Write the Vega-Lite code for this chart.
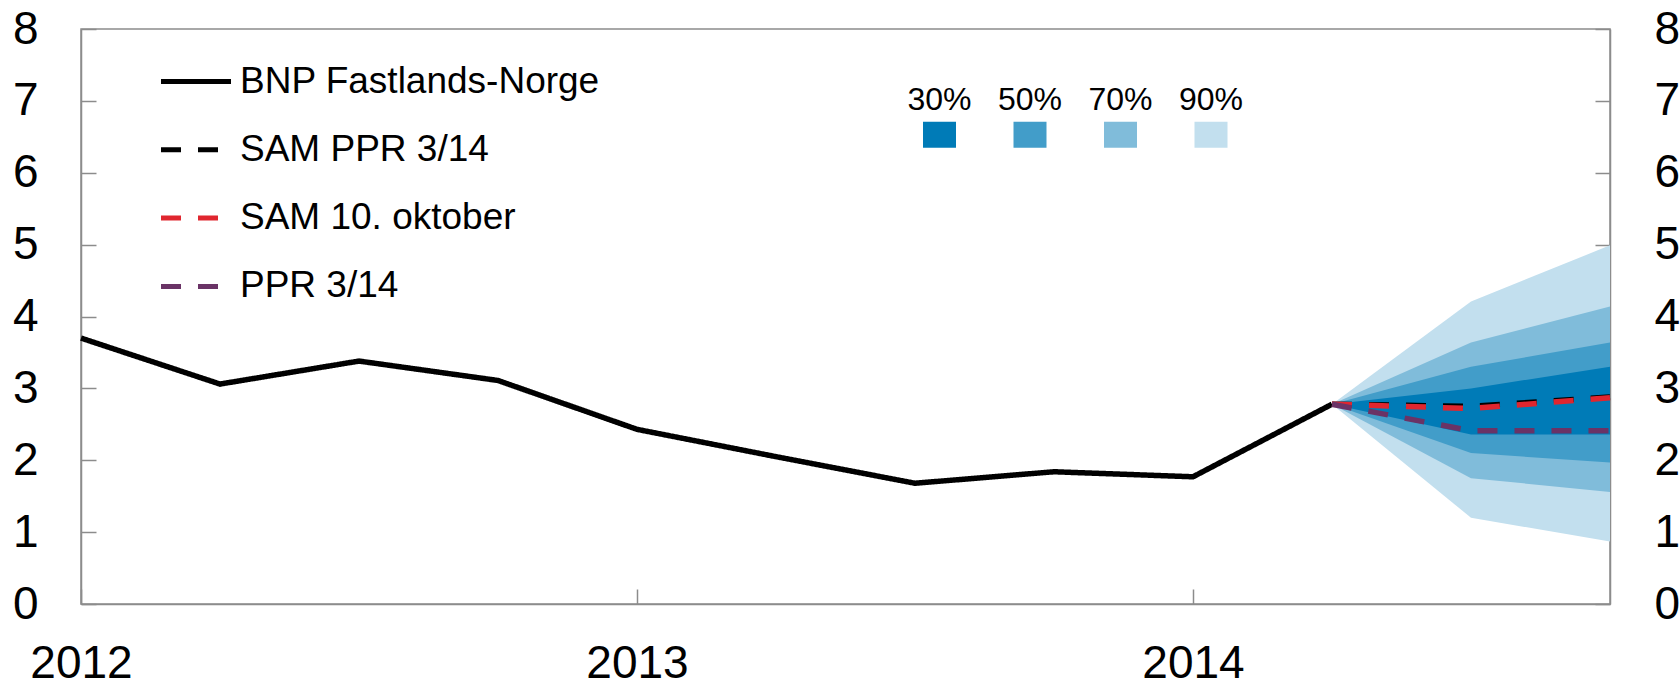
{
  "$schema": "https://vega.github.io/schema/vega-lite/v6.json",
  "width": 1529,
  "height": 575,
  "autosize": {"type": "none"},
  "padding": {"left": 81, "top": 29, "right": 70, "bottom": 77},
  "background": "white",
  "config": {
    "font": "Liberation Sans",
    "view": {"stroke": "#8c8c8c", "strokeWidth": 1.5},
    "axis": {
      "grid": false,
      "domainColor": "#8c8c8c",
      "domainWidth": 1.5,
      "tickColor": "#8c8c8c",
      "tickWidth": 1.5,
      "tickSize": -15,
      "labelFontSize": 46,
      "labelColor": "#000000",
      "labelFont": "Liberation Sans",
      "labelFlush": false,
      "labelOverlap": false,
      "title": null
    },
    "legend": {"labelFont": "Liberation Sans", "labelColor": "#000000"}
  },
  "datasets": {
    "fan": [
      {"t": 2014.25, "band": "90%", "lo": 2.78, "hi": 2.78},
      {"t": 2014.5, "band": "90%", "lo": 1.2, "hi": 4.21},
      {"t": 2014.75, "band": "90%", "lo": 0.87, "hi": 4.99},
      {"t": 2014.25, "band": "70%", "lo": 2.78, "hi": 2.78},
      {"t": 2014.5, "band": "70%", "lo": 1.75, "hi": 3.64},
      {"t": 2014.75, "band": "70%", "lo": 1.56, "hi": 4.14},
      {"t": 2014.25, "band": "50%", "lo": 2.78, "hi": 2.78},
      {"t": 2014.5, "band": "50%", "lo": 2.1, "hi": 3.3},
      {"t": 2014.75, "band": "50%", "lo": 1.97, "hi": 3.64},
      {"t": 2014.25, "band": "30%", "lo": 2.78, "hi": 2.78},
      {"t": 2014.5, "band": "30%", "lo": 2.36, "hi": 3.0},
      {"t": 2014.75, "band": "30%", "lo": 2.36, "hi": 3.3}
    ],
    "lines": [
      {"t": 2012, "s": "BNP Fastlands-Norge", "v": 3.7},
      {"t": 2012.25, "s": "BNP Fastlands-Norge", "v": 3.06},
      {"t": 2012.5, "s": "BNP Fastlands-Norge", "v": 3.38},
      {"t": 2012.75, "s": "BNP Fastlands-Norge", "v": 3.11},
      {"t": 2013, "s": "BNP Fastlands-Norge", "v": 2.43},
      {"t": 2013.25, "s": "BNP Fastlands-Norge", "v": 2.05},
      {"t": 2013.5, "s": "BNP Fastlands-Norge", "v": 1.68},
      {"t": 2013.75, "s": "BNP Fastlands-Norge", "v": 1.84},
      {"t": 2014, "s": "BNP Fastlands-Norge", "v": 1.77},
      {"t": 2014.25, "s": "BNP Fastlands-Norge", "v": 2.78},
      {"t": 2014.25, "s": "SAM PPR 3/14", "v": 2.78},
      {"t": 2014.5, "s": "SAM PPR 3/14", "v": 2.75},
      {"t": 2014.75, "s": "SAM PPR 3/14", "v": 2.88},
      {"t": 2014.25, "s": "SAM 10. oktober", "v": 2.78},
      {"t": 2014.5, "s": "SAM 10. oktober", "v": 2.72},
      {"t": 2014.75, "s": "SAM 10. oktober", "v": 2.87},
      {"t": 2014.25, "s": "PPR 3/14", "v": 2.78},
      {"t": 2014.5, "s": "PPR 3/14", "v": 2.41},
      {"t": 2014.75, "s": "PPR 3/14", "v": 2.41}
    ]
  },
  "layer": [
    {
      "data": {"name": "fan"},
      "transform": [{"filter": "datum.band === '90%'"}],
      "mark": {"type": "area", "opacity": 1},
      "encoding": {
        "x": {"field": "t", "type": "quantitative", "scale": {"domain": [2012, 2014.75], "nice": false, "zero": false},
              "axis": {"orient": "bottom", "values": [2012, 2013, 2014], "format": "d", "labelPadding": 52}},
        "y": {"field": "lo", "type": "quantitative", "scale": {"domain": [0, 8], "nice": false},
              "axis": {"orient": "left", "values": [0, 1, 2, 3, 4, 5, 6, 7, 8], "labelPadding": 58}},
        "y2": {"field": "hi"},
        "fill": {"field": "band", "type": "nominal",
          "scale": {"domain": ["30%", "50%", "70%", "90%"], "range": ["#007BB7", "#429DC9", "#80BCDA", "#C2DFEE"]},
          "legend": {"orient": "none", "legendX": 842, "legendY": 89, "direction": "horizontal", "title": null,
            "symbolType": "M-1,-0.79H1V0.79H-1Z", "symbolSize": 1089, "symbolStrokeWidth": 0, "symbolOpacity": 1,
            "labelFontSize": 32, "labelAlign": "center", "labelBaseline": "alphabetic", "labelOffset": -16.5,
            "columnPadding": 25.5, "padding": 0,
            "encode": {"labels": {"update": {"dy": {"value": -25}}}}}}
      }
    },
    {
      "data": {"name": "fan"},
      "transform": [{"filter": "datum.band === '70%'"}],
      "mark": {"type": "area", "opacity": 1},
      "encoding": {
        "x": {"field": "t", "type": "quantitative"},
        "y": {"field": "lo", "type": "quantitative", "axis": null},
        "y2": {"field": "hi"},
        "fill": {"field": "band", "type": "nominal",
          "legend": {"orient": "none", "legendX": 842, "legendY": 89, "direction": "horizontal", "title": null,
            "symbolType": "M-1,-0.79H1V0.79H-1Z", "symbolSize": 1089, "symbolStrokeWidth": 0, "symbolOpacity": 1,
            "labelFontSize": 32, "labelAlign": "center", "labelBaseline": "alphabetic", "labelOffset": -16.5,
            "columnPadding": 25.5, "padding": 0,
            "encode": {"labels": {"update": {"dy": {"value": -25}}}}}}
      }
    },
    {
      "data": {"name": "fan"},
      "transform": [{"filter": "datum.band === '50%'"}],
      "mark": {"type": "area", "opacity": 1},
      "encoding": {
        "x": {"field": "t", "type": "quantitative"},
        "y": {"field": "lo", "type": "quantitative", "axis": null},
        "y2": {"field": "hi"},
        "fill": {"field": "band", "type": "nominal",
          "legend": {"orient": "none", "legendX": 842, "legendY": 89, "direction": "horizontal", "title": null,
            "symbolType": "M-1,-0.79H1V0.79H-1Z", "symbolSize": 1089, "symbolStrokeWidth": 0, "symbolOpacity": 1,
            "labelFontSize": 32, "labelAlign": "center", "labelBaseline": "alphabetic", "labelOffset": -16.5,
            "columnPadding": 25.5, "padding": 0,
            "encode": {"labels": {"update": {"dy": {"value": -25}}}}}}
      }
    },
    {
      "data": {"name": "fan"},
      "transform": [{"filter": "datum.band === '30%'"}],
      "mark": {"type": "area", "opacity": 1},
      "encoding": {
        "x": {"field": "t", "type": "quantitative"},
        "y": {"field": "lo", "type": "quantitative", "axis": null},
        "y2": {"field": "hi"},
        "fill": {"field": "band", "type": "nominal",
          "legend": {"orient": "none", "legendX": 842, "legendY": 89, "direction": "horizontal", "title": null,
            "symbolType": "M-1,-0.79H1V0.79H-1Z", "symbolSize": 1089, "symbolStrokeWidth": 0, "symbolOpacity": 1,
            "labelFontSize": 32, "labelAlign": "center", "labelBaseline": "alphabetic", "labelOffset": -16.5,
            "columnPadding": 25.5, "padding": 0,
            "encode": {"labels": {"update": {"dy": {"value": -25}}}}}}
      }
    },
    {
      "data": {"name": "lines"},
      "transform": [{"filter": "datum.s === 'BNP Fastlands-Norge'"}],
      "mark": {"type": "line", "strokeWidth": 5.5, "strokeJoin": "miter"},
      "encoding": {
        "x": {"field": "t", "type": "quantitative"},
        "y": {"field": "v", "type": "quantitative", "axis": null},
        "stroke": {"field": "s", "type": "nominal",
          "scale": {"domain": ["BNP Fastlands-Norge", "SAM PPR 3/14", "SAM 10. oktober", "PPR 3/14"], "range": ["#000000", "#000000", "#E0262F", "#6A3366"]},
          "legend": {"orient": "none", "legendX": 77.5, "legendY": 15, "title": null, "symbolType": "stroke", "symbolSize": 4900,
            "symbolStrokeWidth": 5, "labelFontSize": 37, "labelOffset": 6.5, "rowPadding": 12.3, "padding": 0, "labelLimit": 0}},
        "strokeDash": {"field": "s", "type": "nominal",
          "scale": {"domain": ["BNP Fastlands-Norge", "SAM PPR 3/14", "SAM 10. oktober", "PPR 3/14"], "range": [[1, 0], [20, 17], [20, 17], [20, 17]]},
          "legend": {"orient": "none", "legendX": 77.5, "legendY": 15, "title": null, "symbolType": "stroke", "symbolSize": 4900,
            "symbolStrokeWidth": 5, "labelFontSize": 37, "labelOffset": 6.5, "rowPadding": 12.3, "padding": 0, "labelLimit": 0}}
      }
    },
    {
      "data": {"name": "lines"},
      "transform": [{"filter": "datum.s === 'SAM PPR 3/14'"}],
      "mark": {"type": "line", "strokeWidth": 5.5},
      "encoding": {
        "x": {"field": "t", "type": "quantitative"},
        "y": {"field": "v", "type": "quantitative", "axis": null},
        "stroke": {"field": "s", "type": "nominal",
          "legend": {"orient": "none", "legendX": 77.5, "legendY": 15, "title": null, "symbolType": "stroke", "symbolSize": 4900,
            "symbolStrokeWidth": 5, "labelFontSize": 37, "labelOffset": 6.5, "rowPadding": 12.3, "padding": 0, "labelLimit": 0}},
        "strokeDash": {"field": "s", "type": "nominal",
          "legend": {"orient": "none", "legendX": 77.5, "legendY": 15, "title": null, "symbolType": "stroke", "symbolSize": 4900,
            "symbolStrokeWidth": 5, "labelFontSize": 37, "labelOffset": 6.5, "rowPadding": 12.3, "padding": 0, "labelLimit": 0}}
      }
    },
    {
      "data": {"name": "lines"},
      "transform": [{"filter": "datum.s === 'SAM 10. oktober'"}],
      "mark": {"type": "line", "strokeWidth": 5.5},
      "encoding": {
        "x": {"field": "t", "type": "quantitative"},
        "y": {"field": "v", "type": "quantitative", "axis": null},
        "stroke": {"field": "s", "type": "nominal",
          "legend": {"orient": "none", "legendX": 77.5, "legendY": 15, "title": null, "symbolType": "stroke", "symbolSize": 4900,
            "symbolStrokeWidth": 5, "labelFontSize": 37, "labelOffset": 6.5, "rowPadding": 12.3, "padding": 0, "labelLimit": 0}},
        "strokeDash": {"field": "s", "type": "nominal",
          "legend": {"orient": "none", "legendX": 77.5, "legendY": 15, "title": null, "symbolType": "stroke", "symbolSize": 4900,
            "symbolStrokeWidth": 5, "labelFontSize": 37, "labelOffset": 6.5, "rowPadding": 12.3, "padding": 0, "labelLimit": 0}}
      }
    },
    {
      "data": {"name": "lines"},
      "transform": [{"filter": "datum.s === 'PPR 3/14'"}],
      "mark": {"type": "line", "strokeWidth": 5.5},
      "encoding": {
        "x": {"field": "t", "type": "quantitative"},
        "y": {"field": "v", "type": "quantitative",
              "axis": {"orient": "right", "values": [0, 1, 2, 3, 4, 5, 6, 7, 8], "labelPadding": 59}},
        "stroke": {"field": "s", "type": "nominal",
          "legend": {"orient": "none", "legendX": 77.5, "legendY": 15, "title": null, "symbolType": "stroke", "symbolSize": 4900,
            "symbolStrokeWidth": 5, "labelFontSize": 37, "labelOffset": 6.5, "rowPadding": 12.3, "padding": 0, "labelLimit": 0}},
        "strokeDash": {"field": "s", "type": "nominal",
          "legend": {"orient": "none", "legendX": 77.5, "legendY": 15, "title": null, "symbolType": "stroke", "symbolSize": 4900,
            "symbolStrokeWidth": 5, "labelFontSize": 37, "labelOffset": 6.5, "rowPadding": 12.3, "padding": 0, "labelLimit": 0}}
      }
    }
  ],
  "resolve": {"axis": {"y": "independent"}}
}
